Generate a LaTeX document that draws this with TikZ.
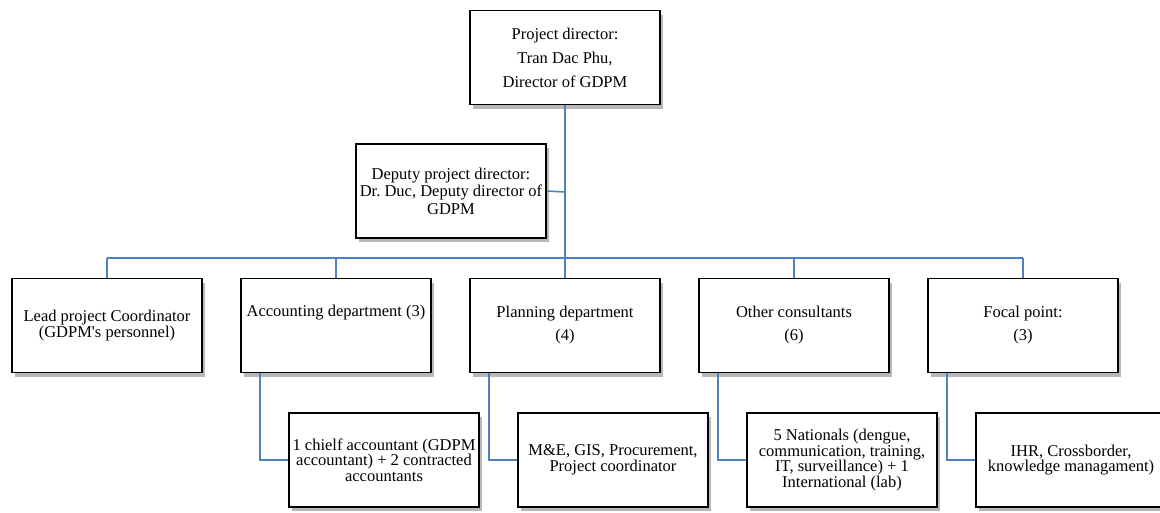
\documentclass[tikz,border=0pt]{standalone}
\usepackage{fontspec}
\setmainfont{Liberation Serif}
\newfontfamily\plainserif[Ligatures=TeXOff]{Liberation Serif}
\newcommand{\straightquote}{{\plainserif'}}
\frenchspacing
\usetikzlibrary{shadows}
\definecolor{linkblue}{HTML}{4F81BD}
\tikzset{
  x=1pt, y=-1pt,
  orgbox/.style={draw=black, line width=1.8pt, fill=white, minimum width=190pt,
    minimum height=94pt, inner sep=0pt, align=center,
    drop shadow={shadow xshift=3pt, shadow yshift=-4pt, fill=black!35, opacity=0.8}},
  topfont/.style={font=\fontsize{16.5}{24}\selectfont},
  depfont/.style={font=\fontsize{16.5}{17.5}\selectfont},
  midfont/.style={font=\fontsize{16.5}{23}\selectfont},
  leadfont/.style={font=\fontsize{16.5}{13.5}\selectfont},
  kidfont/.style={font=\fontsize{16.5}{15.5}\selectfont},
  link/.style={draw=linkblue, line width=1.6pt},
}
\begin{document}
\begin{tikzpicture}
\useasboundingbox (0,0) rectangle (1160,512);
\coordinate (bus1) at (107,258);
\coordinate (bus2) at (336,258);
\coordinate (bus3) at (565,258);
\coordinate (bus4) at (794,258);
\coordinate (bus5) at (1023,258);
\coordinate (depj) at (565,192);

\node[orgbox, topfont] (pd) at (565,57.5) {Project director:\\Tran Dac Phu,\\Director of GDPM};
\node[orgbox, depfont] (dpd) at (451,191) {Deputy project director:\\Dr. Duc, Deputy director of\\GDPM};

\node[orgbox, leadfont] (lead) at (107,325.5) {Lead project Coordinator\\(GDPM\straightquote s personnel)};
\node[orgbox, midfont] (acc) at (336,325.5) {Accounting department (3)\\\strut};
\node[orgbox, midfont] (plan) at (565,325.5) {Planning department\\(4)};
\node[orgbox, midfont] (oth) at (794,325.5) {Other consultants\\(6)};
\node[orgbox, midfont] (foc) at (1023,325.5) {Focal point:\\(3)};

\node[orgbox, kidfont] (acck) at (384,460) {1 chielf accountant (GDPM\\accountant) + 2 contracted\\accountants};
\node[orgbox, kidfont] (plank) at (613,460) {M\&E, GIS, Procurement,\\Project coordinator};
\node[orgbox, kidfont] (othk) at (842,460) {5 Nationals (dengue,\\communication, training,\\IT, surveillance) + 1\\International (lab)};
\node[orgbox, kidfont] (fock) at (1071,460) {IHR, Crossborder,\\knowledge managament)};

\path[link] (pd.south) -- (plan.north);
\path[link] (dpd.east) -- (depj);
\path[link] (bus1) -- (bus5);
\path[link] (bus1) -- (lead.north);
\path[link] (bus2) -- (acc.north);
\path[link] (bus4) -- (oth.north);
\path[link] (bus5) -- (foc.north);
\path[link] ([xshift=20pt]acc.south west) |- (acck.west);
\path[link] ([xshift=20pt]plan.south west) |- (plank.west);
\path[link] ([xshift=20pt]oth.south west) |- (othk.west);
\path[link] ([xshift=20pt]foc.south west) |- (fock.west);
\end{tikzpicture}
\end{document}
